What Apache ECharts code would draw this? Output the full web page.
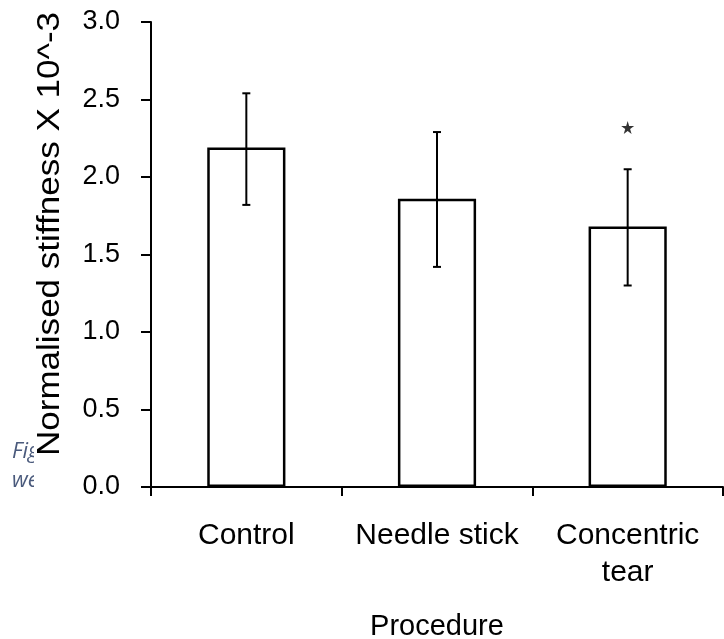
<!DOCTYPE html>
<html><head><meta charset="utf-8">
<script src="https://cdn.jsdelivr.net/npm/echarts@6/dist/echarts.min.js"></script>
<style>html,body{margin:0;padding:0;background:#fff}#c{width:724px;height:639px}</style>
</head><body><div id="c"></div>
<script>
const categories = ['Control', 'Needle stick', 'Concentric\ntear'];
const means = [2.19, 1.86, 1.68];
const errLow = [1.82, 1.42, 1.30];
const errHigh = [2.54, 2.29, 2.05];
const significance = [null, null, 2.32];
const yTicks = [0, 0.5, 1.0, 1.5, 2.0, 2.5, 3.0];

const FONT = 'Liberation Sans, Arial, sans-serif';
const STAR = 'path://M50,0 L61,35 L98,35 L68,57 L79,91 L50,70 L21,91 L32,57 L2,35 L39,35 Z';
const chart = echarts.init(document.getElementById('c'));
chart.setOption({
  backgroundColor: '#fff',
  animation: false,
  grid: {left: 151, right: 1, top: 22, bottom: 152, containLabel: false, outerBoundsMode: 'none'},
  graphic: [
    {type: 'text', x: 12, y: 463, z: -10, style: {text: 'Figure', font: 'italic 22px "Open Sans", sans-serif', fill: '#4a5a7c', verticalAlign: 'bottom'}},
    {type: 'text', x: 12, y: 492, z: -10, style: {text: 'were', font: 'italic 22px "Open Sans", sans-serif', fill: '#4a5a7c', verticalAlign: 'bottom'}},
    {type: 'rect', shape: {x: 34, y: 0, width: 690, height: 639}, z: -5, style: {fill: '#fff'}},
    {type: 'text', x: 50, y: 234, rotation: Math.PI / 2, scaleX: 1.13, z: 5,
     style: {text: 'Normalised stiffness X 10^-3', font: '31px ' + FONT, fill: '#000', align: 'center', verticalAlign: 'middle'}}
  ],
  xAxis: {
    type: 'category', data: categories,
    name: 'Procedure', nameLocation: 'middle', nameGap: 125,
    nameTextStyle: {fontFamily: FONT, fontSize: 29, color: '#000'},
    axisLine: {lineStyle: {color: '#000', width: 2}},
    axisTick: {show: true, length: 9, lineStyle: {color: '#000', width: 2}},
    axisLabel: {interval: 0, hideOverlap: false, fontFamily: FONT, fontSize: 30, color: '#000', margin: 30, lineHeight: 37}
  },
  yAxis: {
    type: 'value', min: 0, max: 3, interval: 0.5,
    splitLine: {show: false},
    axisLine: {show: true, lineStyle: {color: '#000', width: 2}},
    axisTick: {show: true, length: 10, lineStyle: {color: '#000', width: 2}},
    axisLabel: {fontFamily: FONT, fontSize: 27, color: '#000', margin: 31,
      formatter: v => yTicks.includes(v) ? v.toFixed(1) : ''}
  },
  series: [
    {type: 'bar', data: means, barWidth: '41%',
     itemStyle: {color: '#fff', borderColor: '#000', borderWidth: 2.5}},
    {type: 'custom', z: 5,
     data: categories.map((c, i) => [i, errLow[i], errHigh[i]]),
     renderItem: (params, api) => {
       const lo = api.coord([api.value(0), api.value(1)]);
       const hi = api.coord([api.value(0), api.value(2)]);
       const w = 4;
       const st = {stroke: '#000', lineWidth: 2};
       return {type: 'group', children: [
         {type: 'line', shape: {x1: lo[0], y1: lo[1], x2: hi[0], y2: hi[1]}, style: st},
         {type: 'line', shape: {x1: lo[0] - w, y1: lo[1], x2: lo[0] + w, y2: lo[1]}, style: st},
         {type: 'line', shape: {x1: hi[0] - w, y1: hi[1], x2: hi[0] + w, y2: hi[1]}, style: st}
       ]};
     }},
    {type: 'scatter', data: significance, symbol: STAR, symbolSize: 13,
     itemStyle: {color: '#000'}}
  ]
});
</script></body></html>
